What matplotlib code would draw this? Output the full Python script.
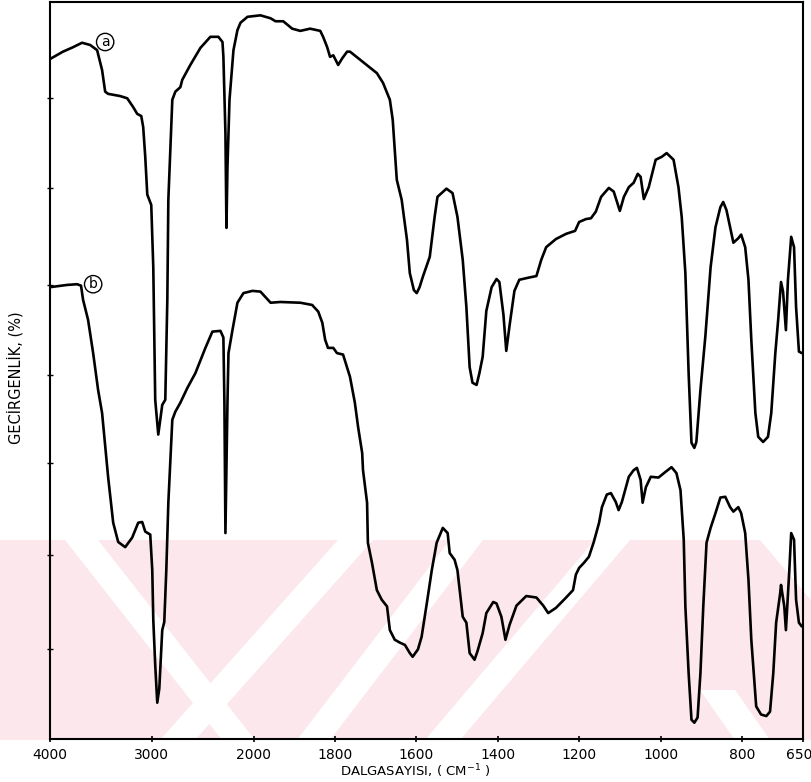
import numpy as np
import matplotlib
matplotlib.use("Agg")
import matplotlib.pyplot as plt
from matplotlib.patches import Polygon
from matplotlib.transforms import Affine2D, ScaledTranslation

# ---------------- data ----------------
wn_a = [4000, 3872, 3773, 3685, 3606, 3537, 3488, 3458, 3429, 3310,
        3241, 3182, 3143, 3103, 3084, 3064, 3044, 3005, 2985, 2966,
        2936, 2897, 2867, 2847, 2837, 2798, 2768, 2719, 2700, 2621,
        2522, 2424, 2345, 2305, 2296, 2276, 2266, 2256, 2236, 2197,
        2158, 2128, 2059, 1983, 1958, 1946, 1927, 1905, 1885, 1861,
        1836, 1829, 1819, 1812, 1804, 1792, 1782, 1770, 1763, 1731,
        1697, 1682, 1665, 1658, 1648, 1636, 1623, 1616, 1606, 1599,
        1592, 1584, 1567, 1555, 1548, 1526, 1511, 1499, 1486, 1477,
        1469, 1462, 1452, 1445, 1437, 1428, 1415, 1403, 1396, 1386,
        1379, 1371, 1359, 1347, 1323, 1305, 1293, 1281, 1257, 1232,
        1210, 1200, 1183, 1171, 1159, 1146, 1127, 1115, 1100, 1090,
        1078, 1066, 1056, 1049, 1041, 1029, 1012, 997, 985, 968,
        956, 948, 939, 931, 924, 917, 912, 902, 890, 877,
        865, 853, 846, 838, 821, 809, 802, 792, 784, 777,
        767, 760, 748, 736, 728, 718, 711, 704, 699, 692,
        687, 679, 672, 667, 660, 653]
t_a = [92.3, 93.3, 93.9, 94.5, 94.2, 93.5, 90.8, 87.9, 87.6, 87.3,
       87.0, 85.8, 84.9, 84.6, 83.1, 79.1, 74.0, 72.6, 64.2, 46.3,
       41.6, 45.6, 46.3, 59.8, 73.3, 86.8, 87.9, 88.5, 89.5, 91.5,
       93.8, 95.3, 95.3, 94.6, 92.6, 82.3, 69.5, 77.7, 86.8, 93.5,
       96.2, 97.2, 98.0, 98.2, 97.8, 97.4, 97.4, 96.4, 96.1, 96.4,
       96.1, 95.3, 93.9, 92.6, 92.8, 91.5, 92.4, 93.3, 93.3, 91.9,
       90.4, 89.1, 86.8, 84.1, 76.0, 73.3, 67.9, 63.4, 61.1, 60.7,
       61.5, 62.9, 65.6, 71.0, 73.7, 74.8, 74.2, 71.0, 65.2, 58.8,
       50.7, 48.6, 48.3, 49.9, 52.1, 58.3, 61.5, 62.6, 62.2, 57.8,
       52.9, 56.3, 61.0, 62.5, 62.8, 63.0, 65.2, 66.9, 68.0, 68.7,
       69.1, 70.3, 70.7, 70.8, 71.7, 73.7, 74.9, 74.4, 71.8, 73.7,
       75.0, 75.6, 76.8, 76.4, 73.4, 75.0, 78.7, 79.1, 79.6, 78.7,
       75.0, 71.0, 63.4, 49.9, 40.5, 39.8, 40.6, 47.6, 54.8, 64.2,
       69.6, 72.3, 73.0, 71.9, 67.5, 68.1, 68.6, 66.9, 62.5, 54.4,
       44.5, 41.3, 40.6, 41.3, 44.5, 52.6, 57.1, 62.2, 60.9, 55.7,
       62.5, 68.3, 66.9, 58.8, 52.8, 52.6]

wn_b = [4000, 3833, 3734, 3695, 3675, 3626, 3576, 3527, 3488, 3429,
        3379, 3330, 3261, 3192, 3133, 3094, 3064, 3015, 2995, 2985,
        2966, 2946, 2926, 2897, 2877, 2857, 2837, 2798, 2768, 2719,
        2650, 2571, 2473, 2404, 2325, 2296, 2286, 2276, 2256, 2246,
        2207, 2158, 2099, 2010, 1983, 1958, 1934, 1885, 1856, 1841,
        1831, 1824, 1817, 1804, 1795, 1780, 1763, 1751, 1743, 1733,
        1731, 1721, 1719, 1709, 1697, 1685, 1672, 1665, 1653, 1640,
        1628, 1616, 1609, 1596, 1587, 1574, 1562, 1550, 1535, 1523,
        1518, 1506, 1499, 1486, 1477, 1469, 1457, 1450, 1437, 1428,
        1411, 1403, 1391, 1381, 1371, 1354, 1330, 1305, 1288, 1276,
        1257, 1232, 1215, 1208, 1200, 1188, 1176, 1164, 1151, 1144,
        1132, 1122, 1110, 1103, 1095, 1078, 1066, 1058, 1049, 1044,
        1036, 1024, 1005, 987, 973, 961, 951, 943, 939, 931,
        924, 917, 909, 902, 895, 887, 877, 865, 853, 841,
        829, 821, 809, 802, 792, 784, 777, 765, 753, 740,
        731, 723, 716, 706, 704, 696, 692, 684, 679, 672,
        667, 660, 653]
t_b = [61.5, 61.8, 61.9, 61.7, 59.8, 57.1, 52.6, 47.6, 44.5, 35.9,
       29.7, 27.1, 26.4, 27.7, 29.7, 29.8, 28.5, 28.1, 23.3, 16.6,
       10.5, 5.4, 7.3, 15.2, 16.3, 23.3, 32.4, 43.6, 44.7, 45.9,
       47.9, 49.9, 53.3, 55.5, 55.6, 54.7, 45.9, 28.3, 45.9, 52.6,
       55.7, 59.4, 60.7, 61.0, 60.9, 59.4, 59.5, 59.4, 59.1, 58.2,
       56.7, 54.4, 53.3, 53.3, 52.6, 52.4, 49.4, 45.9, 42.6, 39.1,
       36.8, 32.4, 27.0, 24.3, 20.6, 19.3, 18.4, 15.2, 13.9, 13.5,
       13.2, 12.1, 11.6, 12.6, 14.3, 18.9, 23.3, 27.0, 29.0, 28.3,
       25.6, 24.7, 23.3, 17.0, 16.2, 12.1, 11.2, 12.3, 14.8, 17.5,
       19.0, 18.8, 17.0, 13.9, 15.9, 18.5, 19.8, 19.6, 18.5, 17.5,
       18.2, 19.6, 20.6, 22.7, 23.6, 24.3, 25.1, 27.1, 29.7, 31.8,
       33.5, 33.7, 32.5, 31.4, 32.5, 35.9, 36.8, 37.1, 35.5, 32.4,
       34.5, 35.9, 35.8, 36.6, 37.2, 36.4, 34.1, 27.4, 18.4, 9.4,
       3.1, 2.7, 3.4, 9.4, 18.4, 27.0, 29.0, 31.0, 33.1, 33.2,
       31.8, 31.2, 31.8, 31.0, 28.3, 22.0, 13.9, 4.9, 3.8, 3.6,
       4.2, 9.4, 16.2, 20.2, 21.3, 18.4, 15.2, 22.9, 28.3, 27.4,
       19.3, 16.2, 15.7]

x_ticks = [4000, 3000, 2000, 1800, 1600, 1400, 1200, 1000, 800, 650]
x_tick_labels = ["4000", "3000", "2000", "1800", "1600", "1400",
                 "1200", "1000", "800", "650"]
curve_labels = ["a", "b"]
label_pos = [(3458, 94.6), (3576, 61.9)]

# ---------------- figure ----------------
W, H = 811, 782
fig = plt.figure(figsize=(W / 100, H / 100), dpi=100)
fig.patch.set_facecolor("white")

# pixel (from top-left) -> figure transform, used for the scanned watermark
px = Affine2D().scale(1 / W, -1 / H).translate(0, 1) + fig.transFigure

pink = "#fce8ec"
def band(poly, color):
    fig.add_artist(Polygon(poly, closed=True, transform=px, facecolor=color,
                           edgecolor="none", zorder=0))

band([(0, 540), (W, 540), (W, 740), (0, 740)], pink)
# white diagonal stripes of the watermark
band([(65, 540), (98, 540), (255, 740), (222, 740)], "white")
band([(338, 540), (373, 540), (195, 740), (160, 740)], "white")
band([(450, 540), (483, 540), (330, 740), (297, 740)], "white")
band([(595, 540), (630, 540), (460, 740), (425, 740)], "white")
band([(760, 540), (W, 540), (W, 600)], "white")
band([(700, 690), (735, 690), (770, 740), (735, 740)], "white")

ax = fig.add_axes([50 / W, (H - 739) / H, 753 / W, 737 / H])
ax.patch.set_alpha(0)


# grating change at 2000 cm-1: 4000-2000 drawn at a quarter of the density
def fwd(w):
    w = np.asarray(w, dtype=float)
    return np.where(w >= 2000, 1350 + (w - 2000) / 4.0, w - 650)


def inv(p):
    p = np.asarray(p, dtype=float)
    return np.where(p >= 1350, 2000 + 4 * (p - 1350), p + 650)


ax.set_xscale("function", functions=(fwd, inv))
ax.set_xlim(4000, 650)
ax.set_ylim(0.5, 100)

ax.plot(wn_a, t_a, color="black", lw=1.9, solid_joinstyle="round",
        solid_capstyle="round", zorder=3)
ax.plot(wn_b, t_b, color="black", lw=1.9, solid_joinstyle="round",
        solid_capstyle="round", zorder=3)

for lab, (xw, yt) in zip(curve_labels, label_pos):
    ax.text(xw, yt, lab, fontsize=10, ha="center", va="center", zorder=4,
            bbox=dict(boxstyle="circle,pad=0.12", fc="white", ec="black",
                      lw=1.0))

ax.set_xticks(x_ticks)
ax.set_xticklabels(x_tick_labels)
ax.minorticks_off()
ax.tick_params(axis="x", direction="inout", length=5, width=1.2,
               labelsize=10, pad=4, colors="black")
# keep the last label inside the picture
last = ax.get_xticklabels()[-1]
last.set_transform(last.get_transform() +
                   ScaledTranslation(-4 / 100, 0, fig.dpi_scale_trans))
ax.set_yticks([87.0, 74.9, 61.8, 49.7, 37.8, 25.4, 12.6])
ax.set_yticklabels([])
ax.tick_params(axis="y", direction="inout", length=5, width=1.0)

for s in ax.spines.values():
    s.set_linewidth(1.5)
    s.set_color("black")

fig.text(415 / W, 1 - 771 / H, "DALGASAYISI, ( CM$^{-1}$ )", ha="center",
         va="center", fontsize=9.5)
fig.text(15 / W, 1 - 378 / H, "GECİRGENLİK, (%)", ha="center", va="center",
         rotation=90, fontsize=10.5)

fig.savefig("out.png", dpi=100, facecolor="white")
